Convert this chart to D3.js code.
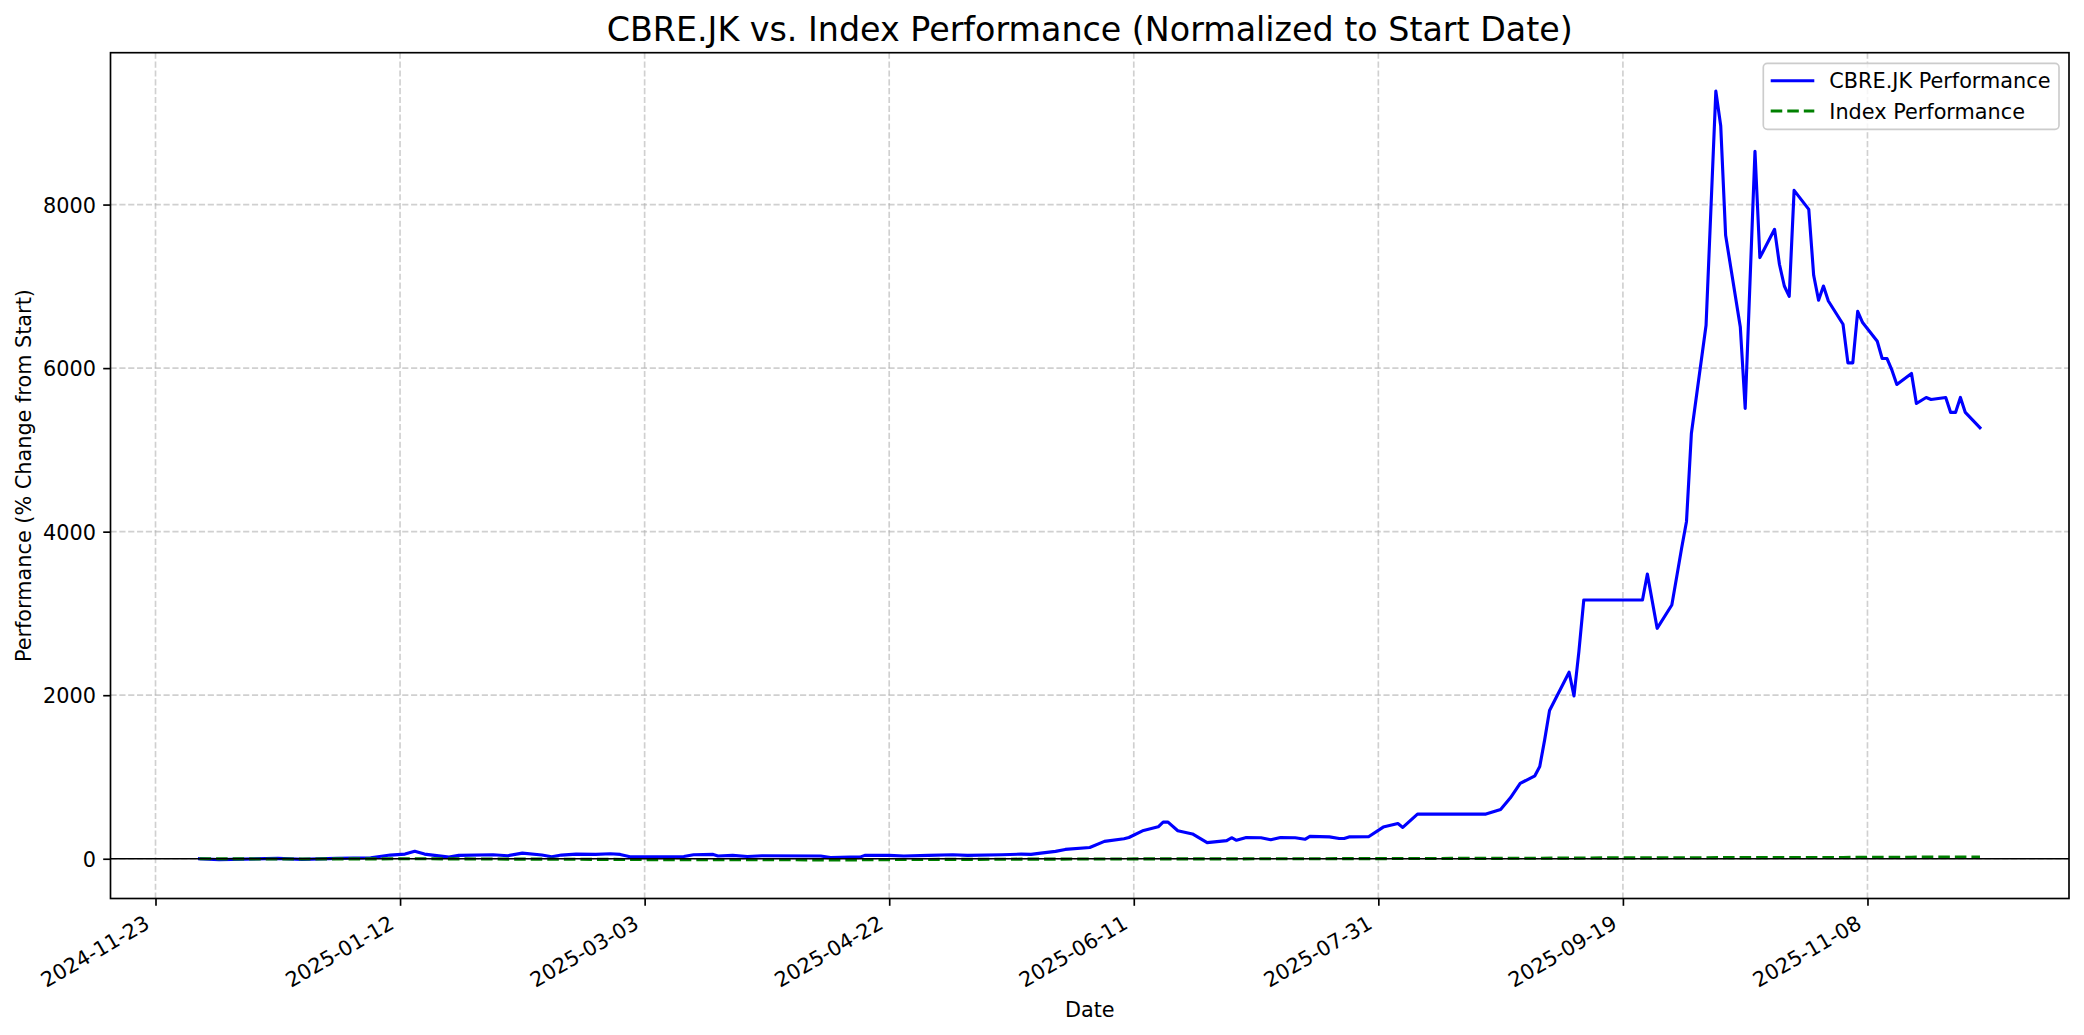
<!DOCTYPE html>
<html><head><meta charset="utf-8">
<script src="https://cdn.jsdelivr.net/npm/d3@7"></script>
<style>
body{margin:0;background:#fff}
svg{display:block}
text{font-family:"DejaVu Sans",sans-serif;fill:#000}
</style>
</head><body>
<svg id="chart" width="2084" height="1035"></svg>
<script>
// ---- data ----
const cbreDates = ["2024-12-02","2024-12-06","2024-12-11","2024-12-18","2024-12-23","2024-12-30",
"2025-01-06","2025-01-10","2025-01-13","2025-01-15","2025-01-17","2025-01-22","2025-01-24","2025-01-31",
"2025-02-03","2025-02-06","2025-02-10","2025-02-12","2025-02-14","2025-02-17","2025-02-21","2025-02-24","2025-02-26","2025-02-28",
"2025-03-11","2025-03-13","2025-03-17","2025-03-18","2025-03-21","2025-03-24","2025-03-27",
"2025-04-08","2025-04-10","2025-04-14","2025-04-16","2025-04-17","2025-04-22","2025-04-25","2025-04-30",
"2025-05-05","2025-05-08","2025-05-15","2025-05-19","2025-05-21","2025-05-23","2025-05-26","2025-05-28",
"2025-06-02","2025-06-05","2025-06-09","2025-06-10","2025-06-13","2025-06-16","2025-06-17","2025-06-18","2025-06-20","2025-06-23","2025-06-26","2025-06-30",
"2025-07-01","2025-07-02","2025-07-04","2025-07-07","2025-07-09","2025-07-11","2025-07-14","2025-07-16","2025-07-17","2025-07-21","2025-07-23","2025-07-24","2025-07-25","2025-07-29",
"2025-08-01","2025-08-04","2025-08-05","2025-08-08","2025-08-22","2025-08-25","2025-08-27","2025-08-29",
"2025-09-01","2025-09-02","2025-09-03","2025-09-04","2025-09-08","2025-09-09","2025-09-10","2025-09-11","2025-09-23","2025-09-24","2025-09-26","2025-09-29","2025-09-30",
"2025-10-01","2025-10-02","2025-10-03","2025-10-06","2025-10-08","2025-10-09","2025-10-10","2025-10-13","2025-10-14","2025-10-16","2025-10-17","2025-10-20","2025-10-21","2025-10-22","2025-10-23","2025-10-24","2025-10-27","2025-10-28","2025-10-29","2025-10-30","2025-10-31",
"2025-11-03","2025-11-04","2025-11-05","2025-11-06","2025-11-07","2025-11-10","2025-11-11","2025-11-12","2025-11-13","2025-11-14","2025-11-17","2025-11-18","2025-11-20","2025-11-21","2025-11-24","2025-11-25","2025-11-26","2025-11-27","2025-11-28",
"2025-12-01"];
const cbreValues = [0,-10,-5,4,-8,4,
12,45,57,92,57,20,41,49,
37,69,45,24,45,57,53,61,53,24,
28,49,53,33,41,28,37,
33,16,20,20,41,41,33,41,
49,41,49,57,53,69,90,114,
138,212,244,260,346,390,448,448,342,303,197,222,
257,226,260,256,232,260,256,238,273,267,248,248,267,269,
387,430,383,546,546,603,745,922,
1014,1128,1454,1812,2281,1992,2533,3164,3164,3482,2818,3103,3449,
3796,4125,5201,6524,9387,8960,7624,6504,5506,8652,7351,7697,7270,7004,6878,8174,7941,7135,6830,7004,6821,
6536,6064,6064,6695,6557,6329,6117,6117,5975,5800,5934,5567,5641,5616,5641,5458,5458,5641,5458,
5270];

const indexDates = ["2024-12-02","2024-12-16","2025-01-02","2025-01-15","2025-02-03","2025-02-17","2025-03-03","2025-03-17",
"2025-04-01","2025-04-09","2025-04-22","2025-05-05","2025-05-20","2025-06-02","2025-06-16","2025-07-01","2025-07-15",
"2025-08-01","2025-08-15","2025-09-01","2025-09-15","2025-10-01","2025-10-15","2025-11-03","2025-11-17","2025-12-01"];
const indexValues = [0,-3,-2,0,-4,-6,-10,-10,-12,-16,-10,-8,-5,-3,-2,-1,0,2,4,6,10,12,14,16,19,22];

const xTickLabels = ["2024-11-23","2025-01-12","2025-03-03","2025-04-22","2025-06-11","2025-07-31","2025-09-19","2025-11-08"];
const yTickValues = [0,2000,4000,6000,8000];

const seriesNames = ["CBRE.JK Performance","Index Performance"];
const titleText = "CBRE.JK vs. Index Performance (Normalized to Start Date)";
const xLabelText = "Date";
const yLabelText = "Performance (% Change from Start)";

// ---- layout ----
const L = 110.5, R = 2069, T = 52.7, B = 898.5;
const FS = 20.8;
const svg = d3.select("#chart");
const parse = d3.utcParse("%Y-%m-%d");

const cbre = cbreDates.map((d,i)=>({date:parse(d), v:cbreValues[i]}));
const idx = indexDates.map((d,i)=>({date:parse(d), v:indexValues[i]}));

const allD = cbre.concat(idx).map(d=>+d.date);
const dmin = d3.min(allD), dmax = d3.max(allD), dspan = dmax - dmin;
const x = d3.scaleUtc().domain([new Date(dmin-0.05*dspan), new Date(dmax+0.05*dspan)]).range([L,R]);
const allV = cbre.concat(idx).map(d=>d.v);
const vmin = d3.min(allV), vmax = d3.max(allV), vspan = vmax - vmin;
const y = d3.scaleLinear().domain([vmin-0.05*vspan, vmax+0.05*vspan]).range([B,T]);

const xTicks = xTickLabels.map(parse);

// grid
const grid = svg.append("g");
grid.selectAll(".gx").data(xTicks).enter().append("line")
  .attr("x1",d=>x(d)).attr("x2",d=>x(d)).attr("y1",T).attr("y2",B)
  .attr("stroke","#b0b0b0").attr("stroke-opacity",0.6).attr("stroke-width",1.67).attr("stroke-dasharray","6.17,2.67");
grid.selectAll(".gy").data(yTickValues).enter().append("line")
  .attr("x1",L).attr("x2",R).attr("y1",d=>y(d)).attr("y2",d=>y(d))
  .attr("stroke","#b0b0b0").attr("stroke-opacity",0.6).attr("stroke-width",1.67).attr("stroke-dasharray","6.17,2.67");

// lines
const line = d3.line().x(d=>x(d.date)).y(d=>y(d.v));
svg.append("path").datum(cbre).attr("d",line).attr("fill","none")
  .attr("stroke","#0000ff").attr("stroke-width",3.125).attr("stroke-linejoin","round").attr("stroke-linecap","square");
svg.append("path").datum(idx).attr("d",line).attr("fill","none")
  .attr("stroke","#008000").attr("stroke-width",3.125).attr("stroke-linejoin","round").attr("stroke-dasharray","11.56,5");

// zero line
svg.append("line").attr("x1",L).attr("x2",R).attr("y1",y(0)).attr("y2",y(0))
  .attr("stroke","#000").attr("stroke-width",1.3);

// axes
const xAxis = d3.axisBottom(x).tickValues(xTicks).tickFormat(d3.utcFormat("%Y-%m-%d")).tickSizeInner(7.3).tickSizeOuter(0);
const gx = svg.append("g").attr("transform",`translate(0,${B})`).call(xAxis);
gx.select(".domain").remove();
gx.selectAll(".tick line").attr("stroke","#000").attr("stroke-width",1.67);
gx.selectAll(".tick text").attr("font-size",FS).attr("text-anchor","end")
  .attr("y",0).attr("dy",0)
  .attr("transform","translate(-5,29) rotate(-30)");

const yAxis = d3.axisLeft(y).tickValues(yTickValues).tickFormat(d3.format("d")).tickSizeInner(7.3).tickSizeOuter(0).tickPadding(7.3);
const gy = svg.append("g").attr("transform",`translate(${L},0)`).call(yAxis);
gy.select(".domain").remove();
gy.selectAll(".tick line").attr("stroke","#000").attr("stroke-width",1.67);
gy.selectAll(".tick text").attr("font-size",FS).attr("dy","0.36em");

// spines
svg.append("rect").attr("x",L).attr("y",T).attr("width",R-L).attr("height",B-T)
  .attr("fill","none").attr("stroke","#000").attr("stroke-width",1.67);

// title & labels
svg.append("text").attr("x",(L+R)/2).attr("y",40.7).attr("text-anchor","middle").attr("font-size",33.3).text(titleText);
svg.append("text").attr("x",(L+R)/2).attr("y",1016.5).attr("text-anchor","middle").attr("font-size",FS).text(xLabelText);
svg.append("text").attr("transform",`translate(31,${(T+B)/2}) rotate(-90)`).attr("text-anchor","middle").attr("font-size",FS).text(yLabelText);

// legend
const lg = svg.append("g");
lg.append("rect").attr("x",1763.3).attr("y",63.3).attr("width",295.7).attr("height",66).attr("rx",4).attr("ry",4)
  .attr("fill","#fff").attr("fill-opacity",0.8).attr("stroke","#cccccc").attr("stroke-width",1.67);
const styles = [{c:"#0000ff",dash:null},{c:"#008000",dash:"11.56,5"}];
seriesNames.forEach((n,i)=>{
  const yy = 80.7 + i*30.3;
  const l = lg.append("line").attr("x1",1770.7).attr("x2",1814.3).attr("y1",yy).attr("y2",yy)
    .attr("stroke",styles[i].c).attr("stroke-width",3.125);
  if(styles[i].dash) l.attr("stroke-dasharray",styles[i].dash);
  lg.append("text").attr("x",1829.3).attr("y",yy+7.6).attr("font-size",FS).text(n);
});
</script>
</body></html>
